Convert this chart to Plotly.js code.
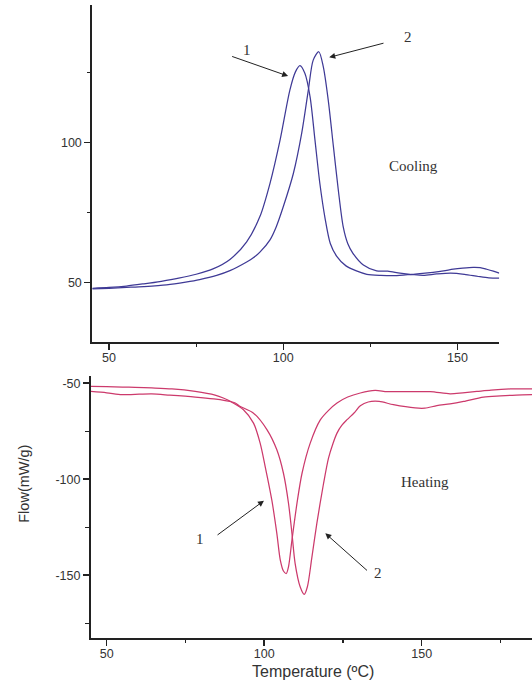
<!DOCTYPE html>
<html>
<head>
<meta charset="utf-8">
<script src="https://cdn.plot.ly/plotly-3.0.1.min.js"></script>
<style>html,body{margin:0;padding:0;background:#fff;}#chart{width:532px;height:684px;}</style>
</head>
<body>
<div id="chart"></div>
<script>
// Cooling (top panel)
const coolX1 = [45.2, 50, 55, 60, 65, 70, 75, 80, 84.7, 89.5, 93.3, 96.2, 99.1, 101.9, 103.5, 104.8, 106.2, 107.7, 109.1, 110.5, 112, 113.5, 115.3, 118, 121, 124, 128, 132, 137, 140, 143, 146, 148.8, 151.5, 154.5, 156.5, 158.4, 160.3, 162];
const coolY1 = [48, 48.3, 48.8, 49.6, 50.5, 51.6, 53, 55, 58.3, 64.6, 73.6, 85.5, 101, 118.8, 125.3, 127.5, 124.8, 116.4, 101, 85.5, 73, 64, 59.5, 56, 54.2, 53, 52.6, 52.5, 53, 53.3, 53.7, 54.2, 54.8, 55.2, 55.5, 55.4, 54.8, 54.1, 53.4];
const coolX2 = [45.2, 50, 55, 60, 66.5, 72, 76, 80.9, 84.7, 89.5, 91.4, 93.3, 96.2, 98, 100, 102.9, 105.3, 107.2, 108.6, 110.2, 111.5, 112.9, 114.4, 115.8, 117.2, 118.5, 120, 123, 126.8, 130, 133.5, 137, 140.2, 144, 148, 152, 156, 159, 162];
const coolY2 = [47.8, 48, 48.3, 48.6, 49.2, 50.2, 51.1, 52.6, 54.3, 57.4, 58.9, 60.9, 65.3, 70, 77.1, 89, 103.4, 118.8, 129.5, 132.5, 127.1, 115.3, 98.6, 83.1, 70, 64, 60.5, 56.3, 54.2, 54.1, 53.4, 52.9, 52.6, 53.1, 53.4, 53, 52.2, 51.7, 51.6];

// Heating (bottom panel)
const heatX1 = [45, 50, 55, 59, 64.3, 70.7, 78.1, 84.4, 87, 89.5, 93.4, 96.6, 98.7, 100.3, 102.4, 104, 105.1, 106.1, 107, 107.7, 108.8, 110.4, 112, 114.6, 117.8, 120.5, 123.1, 126.5, 130.5, 135.2, 139, 145, 152.7, 159, 163, 167.5, 172, 178.1, 185];
const heatY1 = [-51.7, -51.8, -52, -52.2, -52.5, -53, -54.3, -56.2, -57.7, -59.7, -63.8, -70.8, -81.2, -93.4, -110.8, -128.2, -142.1, -147.8, -149.1, -145.6, -131.7, -112.5, -96.9, -81.2, -69.1, -64, -60.3, -57.2, -55.1, -53.8, -54.4, -54.4, -54.4, -55.5, -55, -54.3, -53.6, -53, -52.9];
const heatX2 = [45, 50, 54.8, 59, 64.3, 70, 78.1, 84, 87.6, 90.8, 92.4, 96.6, 100.9, 104, 106.1, 107.7, 108.8, 109.8, 111.4, 112.7, 113.7, 115.1, 116.7, 118.8, 120.4, 121.8, 123.1, 124.6, 126.3, 128.5, 130.5, 133, 136.5, 141, 147.9, 151, 154.8, 159, 163.3, 169.6, 175, 180, 185];
const heatY2 = [-54.3, -55, -56, -55.8, -55.6, -56.2, -57.2, -58.2, -59.1, -60.3, -62.1, -65.6, -74.3, -84.7, -96.9, -112.5, -128.2, -143.8, -156, -160, -156, -141, -123, -102.5, -89, -81.5, -76, -72, -69, -65.5, -61.8, -59.8, -59.5, -61.2, -62.9, -63, -61.7, -60.8, -59.5, -57.2, -56.6, -56.2, -56];

// Tick labels
const xTickVals = [50, 100, 150];
const coolTickVals = [50, 100];
const heatTickVals = [-50, -100, -150];
const heatTickText = ['-50', '-100', '-150'];

const coolColor = '#3f3a96';
const heatColor = '#cc3a6c';
const axisColor = '#222222';
const tickFont = {family: 'Liberation Sans, Arial, sans-serif', size: 12.5, color: '#333333'};
const serif = {family: 'Liberation Serif, Times New Roman, serif', size: 15, color: '#333333'};

function ln(x, y, c, xa, ya) {
  return {x: x, y: y, type: 'scatter', mode: 'lines', xaxis: xa, yaxis: ya,
    line: {color: c, width: 1.25, shape: 'spline', smoothing: 0.8}, hoverinfo: 'skip', showlegend: false};
}

const data = [
  ln(coolX1, coolY1, coolColor, 'x', 'y'),
  ln(coolX2, coolY2, coolColor, 'x', 'y'),
  ln(heatX1, heatY1, heatColor, 'x2', 'y2'),
  ln(heatX2, heatY2, heatColor, 'x2', 'y2')
];

const minorT = (len) => ({ticks: 'outside', ticklen: len, tickwidth: 1.2, tickcolor: axisColor, tickmode: 'linear', dtick: 25, tick0: 0, showgrid: false});

function ax(extra) {
  return Object.assign({
    showgrid: false, zeroline: false, showline: true, linecolor: axisColor, linewidth: 2,
    ticks: 'outside', ticklen: 6, tickwidth: 1.5, tickcolor: axisColor,
    tickfont: tickFont, mirror: false, fixedrange: true
  }, extra);
}

function arrow(xr, yr, hx, hy, tx, ty) {
  return {xref: xr, yref: yr, axref: xr, ayref: yr, x: hx, y: hy, ax: tx, ay: ty, text: '',
    showarrow: true, arrowhead: 2, arrowsize: 1.2, arrowwidth: 1, arrowcolor: '#222'};
}
function label(xr, yr, x, y, t) {
  return {xref: xr, yref: yr, x: x, y: y, text: t, showarrow: false, font: serif, xanchor: 'center', yanchor: 'middle'};
}

const layout = {
  width: 532, height: 684,
  margin: {l: 0, r: 0, t: 0, b: 0},
  paper_bgcolor: '#ffffff', plot_bgcolor: 'rgba(0,0,0,0)',
  showlegend: false,
  xaxis: ax({domain: [0.1735, 0.9385], range: [45.2, 162], anchor: 'y', tickmode: 'array', tickvals: xTickVals, ticklabelstandoff: -3, minor: minorT(3)}),
  yaxis: ax({domain: [0.5004, 0.9927], range: [28.9, 149.2], anchor: 'x', tickmode: 'array', tickvals: coolTickVals, minor: minorT(3)}),
  xaxis2: ax({domain: [0.171, 1.0], range: [45, 185], anchor: 'y2', tickmode: 'array', tickvals: xTickVals, ticklabelstandoff: -3, minor: minorT(3)}),
  yaxis2: ax({domain: [0.0678, 0.4496], range: [-182.5, -46.5], anchor: 'x2', tickmode: 'array', tickvals: heatTickVals, ticktext: heatTickText, minor: minorT(4)}),
  annotations: [
    arrow('x', 'y', 101.4, 123.8, 84.9, 131.0),
    arrow('x', 'y', 113.2, 130.5, 129.2, 135.7),
    label('x', 'y', 89.5, 133.1, '1'),
    label('x', 'y', 135.9, 137.6, '2'),
    label('x', 'y', 137.5, 91.8, 'Cooling'),
    arrow('x2', 'y2', 99.9, -111.2, 84.7, -129.6),
    arrow('x2', 'y2', 119.4, -128.2, 133.1, -148.2),
    label('x2', 'y2', 79.5, -131.2, '1'),
    label('x2', 'y2', 136, -149.1, '2'),
    label('x2', 'y2', 151, -101.6, 'Heating'),
    {xref: 'paper', yref: 'paper', x: 0.0459, y: 0.2934, text: 'Flow(mW/g)', textangle: -90, showarrow: false,
      font: {family: 'Liberation Sans, Arial, sans-serif', size: 14.5, color: '#333333'}, xanchor: 'center', yanchor: 'middle'},
    {xref: 'paper', yref: 'paper', x: 0.5877, y: 0.018, text: 'Temperature (ºC)', showarrow: false,
      font: {family: 'Liberation Sans, Arial, sans-serif', size: 16, color: '#333333'}, xanchor: 'center', yanchor: 'middle'}
  ]
};

Plotly.newPlot('chart', data, layout, {staticPlot: true, displayModeBar: false});
</script>
</body>
</html>
